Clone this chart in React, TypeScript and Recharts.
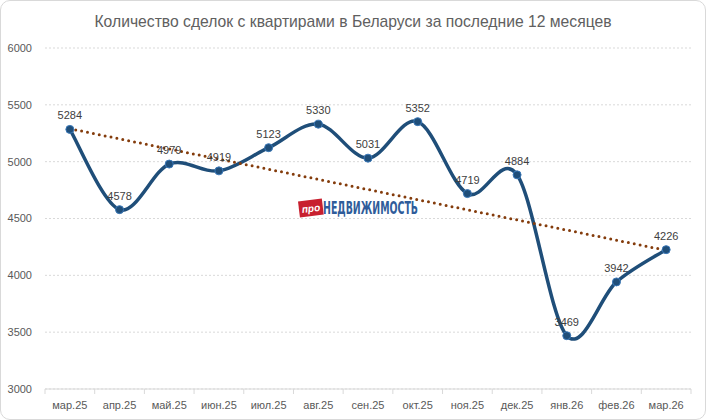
import { CartesianGrid, LabelList, Line, LineChart, ReferenceLine, XAxis, YAxis } from 'recharts'

const months = ['мар.25', 'апр.25', 'май.25', 'июн.25', 'июл.25', 'авг.25', 'сен.25', 'окт.25', 'ноя.25', 'дек.25', 'янв.26', 'фев.26', 'мар.26']
const deals = [5284, 4578, 4979, 4919, 5123, 5330, 5031, 5352, 4719, 4884, 3469, 3942, 4226]
const yTicks = [3000, 3500, 4000, 4500, 5000, 5500, 6000]
// trend line ends
const trendStart = 5290
const trendEnd = 4220

const FONT = '"Liberation Sans", Arial, sans-serif'

// Excel-like smoothed line (Catmull-Rom through the points)
const smoothCurve = (context: any) => {
  let pts: [number, number][] = []
  return {
    areaStart() {},
    areaEnd() {},
    lineStart() {
      pts = []
    },
    point(x: number, y: number) {
      pts.push([+x, +y])
    },
    lineEnd() {
      if (!pts.length) return
      context.moveTo(pts[0][0], pts[0][1])
      const t = 1 / 6
      for (let i = 0; i < pts.length - 1; i++) {
        const p0 = pts[i - 1] ?? pts[i]
        const p1 = pts[i]
        const p2 = pts[i + 1]
        const p3 = pts[i + 2] ?? p2
        context.bezierCurveTo(
          p1[0] + (p2[0] - p0[0]) * t,
          p1[1] + (p2[1] - p0[1]) * t,
          p2[0] - (p3[0] - p1[0]) * t,
          p2[1] - (p3[1] - p1[1]) * t,
          p2[0],
          p2[1],
        )
      }
    },
  }
}

const data = months.map((month, i) => ({ i, month, deals: deals[i] }))
const xTicks = [...months.flatMap((_, i) => [i - 0.5, i]), months.length - 0.5]

const MonthTick = ({ x, y, payload }: any) => {
  const v = payload.value as number
  if (Number.isInteger(v)) {
    return (
      <text x={x} y={y + 20} textAnchor="middle" fill="#595959" fontSize={11} fontFamily={FONT}>
        {months[v]}
      </text>
    )
  }
  return <line x1={x} x2={x} y1={y} y2={y + 5} stroke="#d9d9d9" />
}

const Logo = () => (
  <svg width={260} height={28} style={{ position: 'absolute', left: 296, top: 194 }}>
    <g transform="rotate(-7 15 15)">
      <rect x={3} y={6} width={24} height={16} fill="#c8202f" />
      <text x={15} y={18} textAnchor="middle" fill="#fff" fontSize={10} fontWeight="bold" fontStyle="italic" fontFamily={FONT}>
        про
      </text>
    </g>
    <text
      x={27}
      y={20}
      fill="#2f5c9a"
      fontSize={18}
      fontWeight="bold"
      fontFamily="'DejaVu Sans Condensed', 'Liberation Sans Narrow', Arial, sans-serif"
      textLength={95}
      lengthAdjust="spacingAndGlyphs"
    >
      НЕДВИЖИМОСТЬ
    </text>
  </svg>
)

export default function App() {
  return (
    <div style={{ position: 'relative', width: 706, height: 420, fontFamily: FONT }}>
      <style>{'body{margin:0}'}</style>
      <div
        style={{
          position: 'absolute',
          inset: 0,
          border: '1px solid #d9d9d9',
          borderRadius: 10,
          boxSizing: 'border-box',
          pointerEvents: 'none',
        }}
      />
      <div
        style={{
          position: 'absolute',
          top: 13,
          width: 706,
          textAlign: 'center',
          fontSize: 15.7,
          lineHeight: '18px',
          color: '#606060',
        }}
      >
        Количество сделок с квартирами в Беларуси за последние 12 месяцев
      </div>
      <LineChart width={706} height={420} data={data} margin={{ top: 48, right: 15, bottom: 0, left: 5 }}>
        <CartesianGrid vertical={false} stroke="#d9d9d9" strokeDasharray="2 2" />
        <XAxis
          dataKey="i"
          type="number"
          domain={[-0.5, months.length - 0.5]}
          ticks={xTicks}
          interval={0}
          tick={<MonthTick />}
          tickLine={false}
          tickSize={0}
          tickMargin={0}
          height={31}
          stroke="#d9d9d9"
        />
        <YAxis
          domain={[3000, 6000]}
          ticks={yTicks}
          width={40}
          axisLine={false}
          tickLine={false}
          tickSize={0}
          tickMargin={13}
          tick={{ fill: '#595959', fontSize: 11, fontFamily: FONT }}
        />
        <Line
          dataKey="deals"
          type={smoothCurve as any}
          stroke="#1f4e79"
          strokeWidth={3.5}
          dot={{ r: 4, fill: '#1f4e79', stroke: '#3a78b8', strokeWidth: 1 }}
          isAnimationActive={false}
        >
          <LabelList dataKey="deals" position="top" offset={10} fill="#404040" fontSize={11} fontFamily={FONT} />
        </Line>
        <ReferenceLine
          segment={[
            { x: 0, y: trendStart },
            { x: months.length - 1, y: trendEnd },
          ]}
          stroke="#843c0c"
          strokeWidth={3}
          strokeDasharray="0 6"
          strokeLinecap="round"
          ifOverflow="visible"
        />
      </LineChart>
      <Logo />
    </div>
  )
}
